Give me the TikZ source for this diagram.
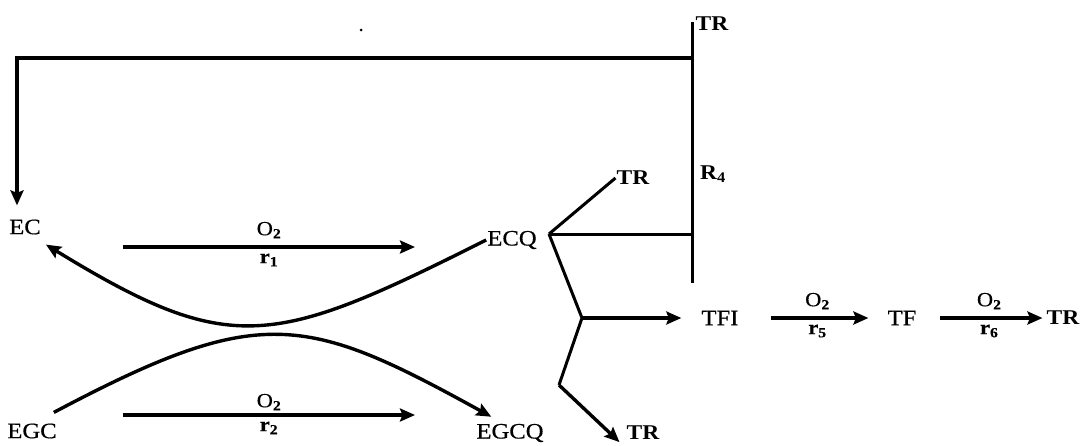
\documentclass[tikz,border=0pt]{standalone}
\usepackage{fontspec}
\setmainfont{Liberation Serif}[FakeStretch=1.12]
\usetikzlibrary{arrows.meta}
\newcommand\lowidx[1]{\textsubscript{\bfseries #1}}
\begin{document}
\begin{tikzpicture}[x=1pt,y=-1pt,
  lbl/.style={inner sep=1pt, font=\fontsize{22}{26}\selectfont\addfontfeature{FakeBold=0.6}},
  boldlbl/.style={inner sep=1pt, font=\fontsize{21}{25}\selectfont\bfseries},
  ratelbl/.style={inner sep=1pt, font=\fontsize{20}{23}\selectfont\addfontfeature{FakeBold=0.5}},
  arr/.style={line width=3.4pt, -{Stealth[length=15pt,width=13pt,inset=2.5pt]}},
  ln/.style={line width=3pt}]
\useasboundingbox (0,0) rectangle (1082,445);

% species
\node[lbl] (ec)   at (25,227)  {EC};
\node[lbl] (ecq)  at (512,240) {ECQ};
\node[lbl] (egc)  at (32,431)  {EGC};
\node[lbl] (egcq) at (510,433) {EGCQ};
\node[boldlbl] (trtop) at (712,24)  {TR};
\node[boldlbl] (r4)    at (713,174) {R\lowidx{4}};
\node[boldlbl] (trup)  at (633,178) {TR};
\node[lbl] (tfi)  at (720,318) {TFI};
\node[lbl] (tf)   at (902,318) {TF};
\node[boldlbl] (trend) at (1063,318) {TR};
\node[boldlbl] (trlow) at (643,433) {TR};

% junction points
\coordinate (vx)     at (549,234);
\coordinate (fork)   at (582,318);
\coordinate (kink)   at (559,385);
\coordinate (jtop)   at (692,58);
\coordinate (jmid)   at (692,234);
\coordinate (rtop)   at (692,22);
\coordinate (rbot)   at (692,283);
\coordinate (corner) at (17,58);
\coordinate (a1) at (123,247);
\coordinate (b1) at (415,247);
\coordinate (a2) at (123,415);
\coordinate (b2) at (415,415);

\fill (361,30) circle (1.5pt);

% recycle line R4
\draw[ln] (rtop) -- (rbot);
\draw[arr, shorten >=13pt] (jtop) -- (corner) -- (corner |- ec.north);

% ECQ branches
\draw[ln] (vx) -- (jmid);
\draw[ln] (vx) -- (trup.west);
\draw[ln] (vx) -- (fork) -- (kink);
\draw[arr] (kink) -- ([shift={(-6pt,-1pt)}]trlow.south west);
\draw[arr] (fork) -- ([xshift=-19pt]tfi.west);

% oxidation steps
\draw[arr] (a1) -- (b1)
  node[ratelbl, midway, above=6pt] {O\lowidx{2}}
  node[ratelbl, midway, below=4pt] {\textbf{r}\lowidx{1}};
\draw[arr] (a2) -- (b2)
  node[ratelbl, midway, above=2pt] {O\lowidx{2}}
  node[ratelbl, midway, below=4pt] {\textbf{r}\lowidx{2}};
\draw[arr, shorten <=31pt, shorten >=18pt] (tfi.east) -- (tf.west)
  node[ratelbl, pos=0.53, above=6pt] {O\lowidx{2}}
  node[ratelbl, pos=0.53, below=4pt] {\textbf{r}\lowidx{5}};
\draw[arr, shorten <=22pt, shorten >=3pt] (tf.east) -- (trend.west)
  node[ratelbl, pos=0.56, above=6pt] {O\lowidx{2}}
  node[ratelbl, pos=0.56, below=4pt] {\textbf{r}\lowidx{6}};

% exchange curves
\draw[arr] (ecq.west) .. controls (273,347) and (231,358) .. ([shift={(4pt,-9pt)}]ec.south east);
\draw[arr] ([shift={(-4pt,10pt)}]egc.north east) .. controls (260,303) and (305,314) .. ([shift={(16pt,6pt)}]egcq.north west);
\end{tikzpicture}
\end{document}
